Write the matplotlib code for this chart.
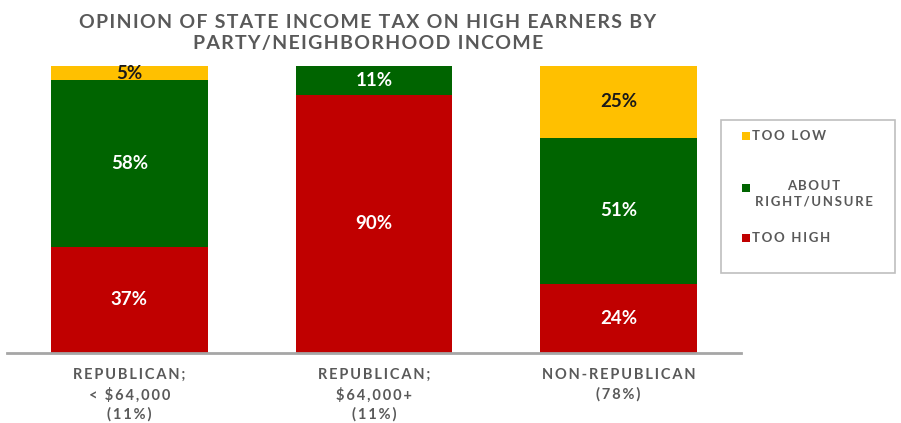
import matplotlib
matplotlib.use("Agg")
import matplotlib.pyplot as plt
from matplotlib.patches import Rectangle

plt.rcParams['font.family'] = ['Lato', 'DejaVu Sans']

categories = ["REPUBLICAN;\n< $64,000\n(11%)", "REPUBLICAN;\n$64,000+\n(11%)", "NON-REPUBLICAN\n(78%)"]
too_high = [37, 90, 24]
about_right = [58, 11, 51]
too_low = [5, 0, 25]

series_names = ["TOO LOW", "ABOUT\nRIGHT/UNSURE", "TOO HIGH"]
title = "OPINION OF STATE INCOME TAX ON HIGH EARNERS BY\nPARTY/NEIGHBORHOOD INCOME"
c_high, c_right, c_low = "#C00000", "#006400", "#FFC000"
gray = "#595959"

W, H = 901, 423
fig = plt.figure(figsize=(W / 100, H / 100), dpi=100)


def fx(px):
    return px / W


def fy(py):
    return 1 - py / H


def tracked(s, gap):
    """Widen letter spacing by placing a narrow space between characters."""
    return "\n".join(gap.join(line) for line in s.split("\n"))


THIN = "\u2009"
HAIR = "\u200a"

ax = fig.add_axes([fx(7), fy(353), fx(741) - fx(7), fy(66) - fy(353)])
x = range(len(categories))
width = 0.64

b1 = ax.bar(x, too_high, width, color=c_high)
b2 = ax.bar(x, about_right, width, bottom=too_high, color=c_right)
bottoms = [a + b for a, b in zip(too_high, about_right)]
b3 = ax.bar(x, too_low, width, bottom=bottoms, color=c_low)

lab_kw = dict(fontsize=13.5, fontweight='bold')
ax.bar_label(b1, labels=[f"{v}%" for v in too_high], label_type='center', color='white', **lab_kw)
ax.bar_label(b2, labels=[f"{v}%" for v in about_right], label_type='center', color='white', **lab_kw)
ax.bar_label(b3, labels=[f"{v}%" if v else "" for v in too_low], label_type='center', color='#1a1a1a', **lab_kw)

ax.set_xlim(-0.5, 2.5)
ax.set_ylim(0, 100)
ax.set_yticks([])
ax.set_xticks(list(x))
ax.set_xticklabels([tracked(c, THIN) for c in categories], fontsize=10.5, fontweight='bold',
                   color=gray, linespacing=1.42)
ax.tick_params(axis='x', length=0, pad=11)
for s in ['top', 'right', 'left']:
    ax.spines[s].set_visible(False)
ax.spines['bottom'].set_color('#A6A6A6')
ax.spines['bottom'].set_linewidth(2)

fig.text(fx(368), fy(33), tracked(title, HAIR),
         ha='center', va='center', fontsize=14, fontweight='bold', color=gray, linespacing=1.3)

# legend box
fig.patches.append(Rectangle((fx(721), fy(273)), fx(895) - fx(721), fy(120) - fy(273),
                             transform=fig.transFigure, facecolor='white', edgecolor='#BFBFBF', lw=1.2))
leg_rows = [(136, c_low, series_names[0], 752, 'left'),
            (188, c_right, series_names[1], 814, 'center'),
            (238, c_high, series_names[2], 752, 'left')]
for yy, col, name, tx, al in leg_rows:
    fig.patches.append(Rectangle((fx(742), fy(yy + 4)), fx(8), fy(0) - fy(8),
                                 transform=fig.transFigure, facecolor=col, edgecolor='none'))
    va = 'center' if '\n' not in name else 'top'
    fig.text(fx(tx), fy(yy if va == 'center' else yy - 8), tracked(name, THIN), ha=al, va=va,
             multialignment='center', fontsize=9.5, fontweight='bold', color=gray, linespacing=1.4)

fig.savefig("out.png", dpi=100)
